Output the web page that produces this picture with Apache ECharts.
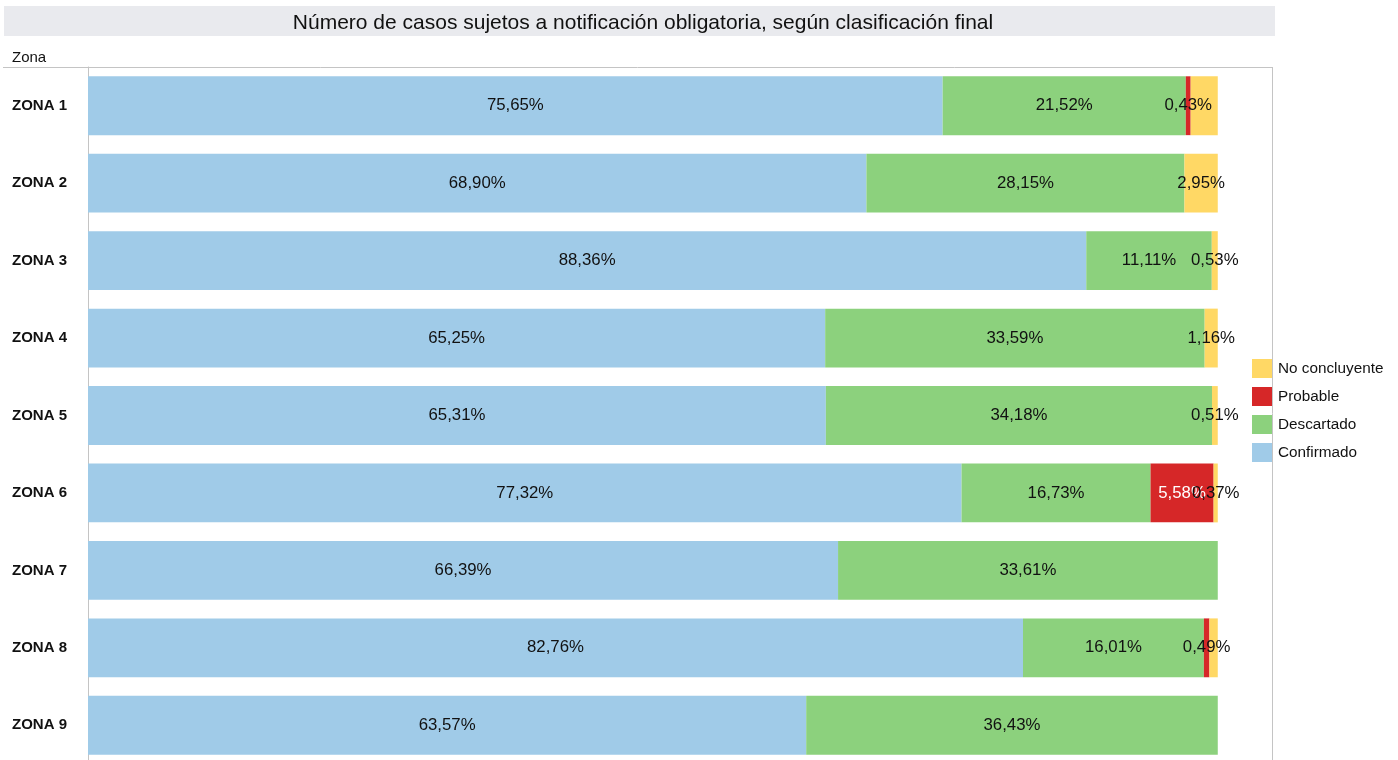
<!DOCTYPE html>
<html><head><meta charset="utf-8">
<script src="https://cdn.jsdelivr.net/npm/echarts@6/dist/echarts.min.js"></script>
<style>html,body{margin:0;padding:0;background:#fff}#c{width:1398px;height:760px}</style>
</head><body><div id="c"></div>
<script>
const zonas = ['ZONA 1','ZONA 2','ZONA 3','ZONA 4','ZONA 5','ZONA 6','ZONA 7','ZONA 8','ZONA 9'];
const confirmado = [75.65, 68.90, 88.36, 65.25, 65.31, 77.32, 66.39, 82.76, 63.57];
const descartado = [21.52, 28.15, 11.11, 33.59, 34.18, 16.73, 33.61, 16.01, 36.43];
const probable = [0.43, null, null, null, null, 5.58, null, 0.49, null];
const noConcluyente = [2.40, 2.95, 0.53, 1.16, 0.51, 0.37, null, 0.74, null];
const hiddenNoConcluyenteLabels = ['ZONA 1', 'ZONA 8'];
const whiteProbableLabels = ['ZONA 6'];

const fmt = v => v.toFixed(2).replace('.', ',') + '%';
const chart = echarts.init(document.getElementById('c'));
const FONT = 'Liberation Sans, Arial, sans-serif';
function mk(name, values, color, opts) {
  opts = opts || {};
  const data = values.map((v, i) => {
    const item = { value: v };
    if (opts.white && opts.white.includes(zonas[i])) item.label = { color: '#ffffff' };
    return item;
  });
  return {
    name, type: 'bar', stack: 'total', data, barCategoryGap: '24%',
    itemStyle: { color },
    label: {
      show: true, position: 'inside', color: '#111', fontSize: 16.8, fontFamily: FONT,
      formatter: p => (p.value == null || (opts.hidden && opts.hidden.includes(p.name))) ? '' : fmt(p.value)
    },
    emphasis: { disabled: true }
  };
}
chart.setOption({
  animation: false,
  textStyle: { fontFamily: FONT },
  title: {
    text: 'Número de casos sujetos a notificación obligatoria, según clasificación final',
    left: 638, top: 8, textAlign: 'center',
    textStyle: { fontSize: 21, fontWeight: 'normal', color: '#111', fontFamily: FONT }
  },
  graphic: [
    { type: 'rect', z: -1, shape: { x: 4, y: 6, width: 1271, height: 30 }, style: { fill: '#e9eaee' } },
    { type: 'text', style: { x: 12, y: 50, text: 'Zona', fontSize: 15, fill: '#111', fontFamily: FONT } },
    { type: 'line', shape: { x1: 3, y1: 67.5, x2: 1272, y2: 67.5 }, style: { stroke: '#c4c4c4', lineWidth: 1 } },
    { type: 'line', shape: { x1: 1272.5, y1: 67, x2: 1272.5, y2: 760 }, style: { stroke: '#c4c4c4', lineWidth: 1 } }
  ],
  legend: {
    data: ['No concluyente', 'Probable', 'Descartado', 'Confirmado'],
    orient: 'vertical', left: 1252, top: 359, padding: 0,
    icon: 'rect', itemWidth: 20, itemHeight: 19, itemGap: 9,
    textStyle: { fontSize: 15.3, color: '#111', fontFamily: FONT, padding: [0, 0, 0, 1] },
    selectedMode: false
  },
  grid: { left: 88, right: 126, top: 67, height: 697, outerBoundsMode: 'none', containLabel: false },
  xAxis: { type: 'value', min: 0, max: 104.8, show: false },
  yAxis: {
    type: 'category', data: zonas, inverse: true,
    axisLine: { show: true, lineStyle: { color: '#c4c4c4' } },
    axisTick: { show: false },
    axisLabel: { align: 'left', margin: 76, fontSize: 15, fontWeight: 'bold', color: '#111', fontFamily: FONT }
  },
  series: [
    mk('Confirmado', confirmado, '#a0cbe8'),
    mk('Descartado', descartado, '#8cd17d'),
    mk('Probable', probable, '#d62728', { white: whiteProbableLabels }),
    mk('No concluyente', noConcluyente, '#ffd865', { hidden: hiddenNoConcluyenteLabels })
  ]
});
</script></body></html>
